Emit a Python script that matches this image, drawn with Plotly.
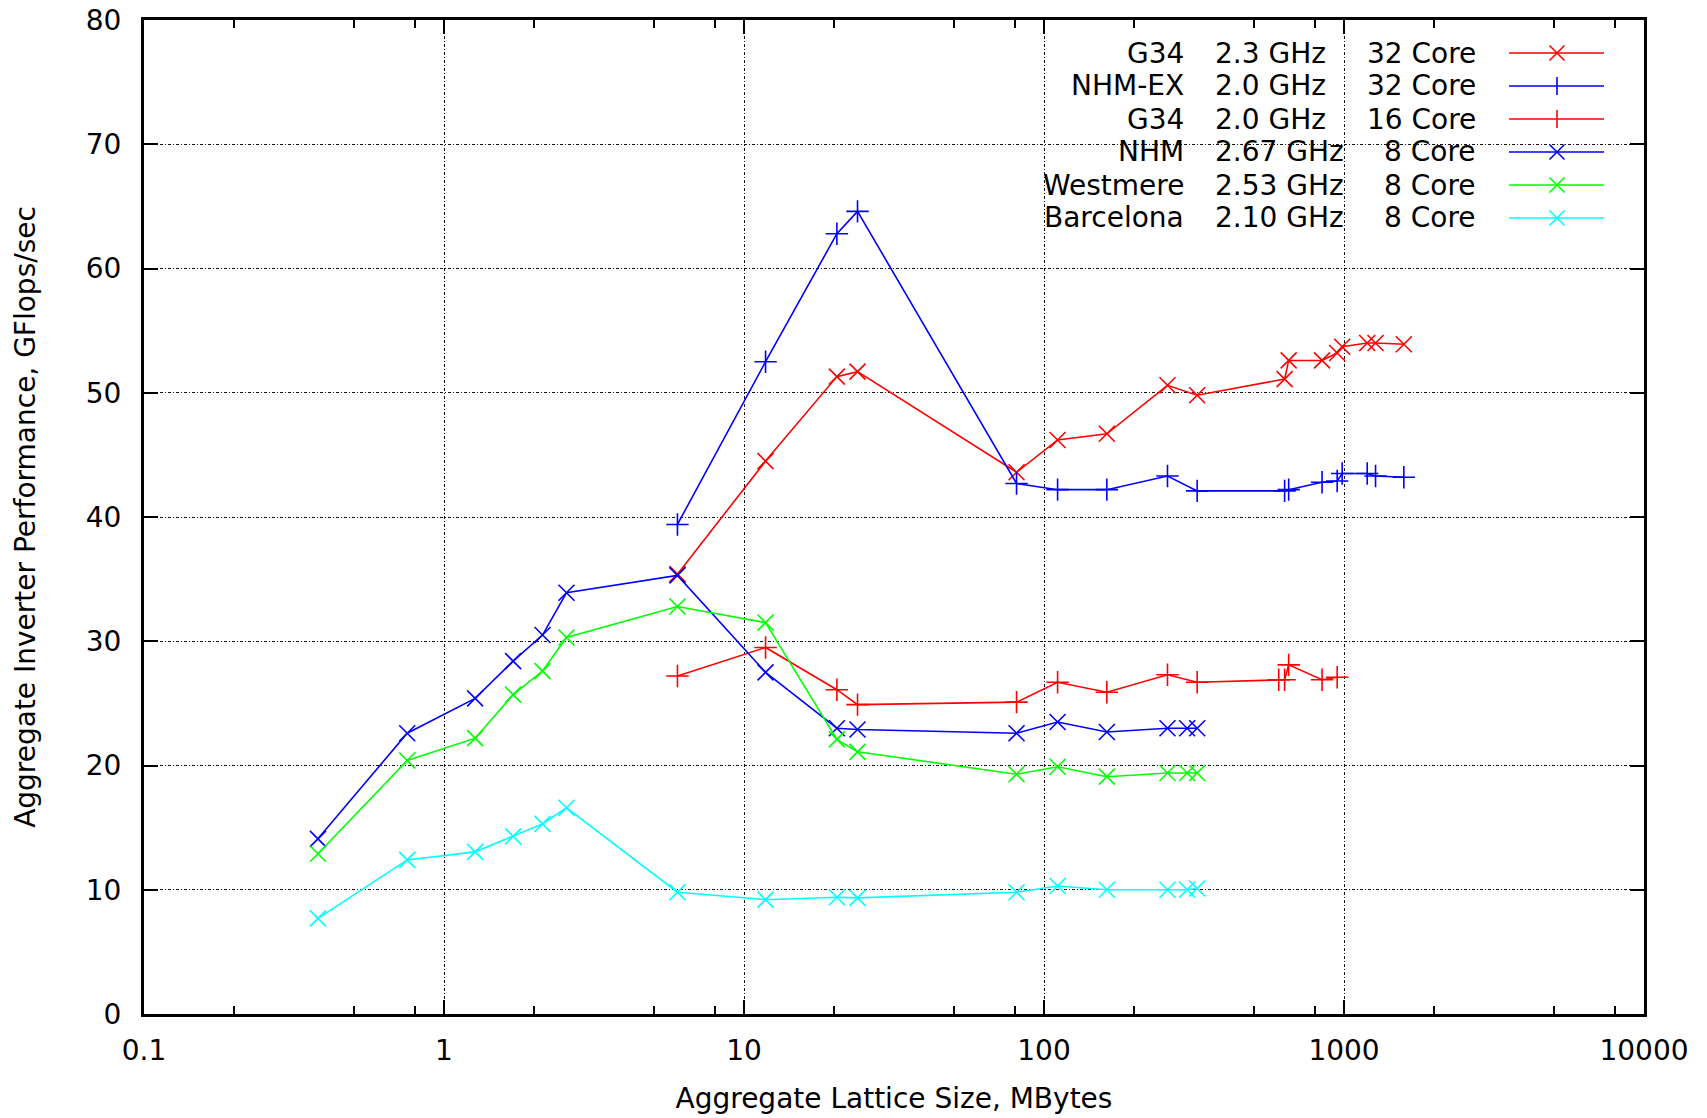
import plotly.graph_objects as go

# ---------------- data ----------------
size_8core = [0.38, 0.754, 1.27, 1.70, 2.13, 2.56, 6.0, 11.8, 20.4, 23.9, 81, 111, 162, 258, 300, 324]
nhm_8 = [14.1, 22.6, 25.4, 28.4, 30.5, 33.9, 35.3, 27.5, 23.0, 22.9, 22.6, 23.5, 22.7, 23.0, 23.0, 23.0]
westmere_8 = [12.9, 20.4, 22.2, 25.7, 27.6, 30.3, 32.8, 31.5, 22.1, 21.1, 19.3, 19.9, 19.1, 19.4, 19.4, 19.4]
barcelona_8 = [7.7, 12.4, 13.05, 14.3, 15.3, 16.6, 9.8, 9.2, 9.4, 9.35, 9.8, 10.3, 10.0, 10.0, 10.0, 10.1]

size_32core = [6.0, 11.8, 20.4, 23.9, 81, 111, 162, 258, 324, 634, 654, 845, 949, 986, 1195, 1274, 1583]
g34_32 = [35.4, 44.5, 51.3, 51.7, 43.6, 46.2, 46.7, 50.6, 49.8, 51.1, 52.6, 52.6, 53.2, 53.7, 54.0, 54.0, 53.9]
nhmex_32 = [39.4, 52.5, 62.8, 64.6, 42.7, 42.2, 42.2, 43.3, 42.1, 42.1, 42.2, 42.8, 42.9, 43.5, 43.5, 43.3, 43.2]

size_16core = [6.0, 11.8, 20.4, 23.9, 81, 111, 162, 258, 324, 606, 634, 654, 845, 949]
g34_16 = [27.2, 29.5, 26.1, 24.9, 25.1, 26.7, 25.9, 27.3, 26.7, 26.9, 26.9, 28.1, 26.9, 27.1]

x_tickvals = [0.1, 1, 10, 100, 1000, 10000]
x_ticktext = ["0.1", "1", "10", "100", "1000", "10000"]
x_minor = [0.2, 0.5, 0.8, 2, 5, 8, 20, 50, 80, 200, 500, 800, 2000, 5000, 8000]
y_tickvals = [0, 10, 20, 30, 40, 50, 60, 70, 80]

legend_names = ["G34", "NHM-EX", "G34", "NHM", "Westmere", "Barcelona"]
legend_ghz = ["2.3 GHz", "2.0 GHz", "2.0 GHz", "2.67 GHz", "2.53 GHz", "2.10 GHz"]
legend_cores = ["32 Core", "32 Core", "16 Core", "8 Core", "8 Core", "8 Core"]

RED, BLUE, GREEN, CYAN = "#ff0000", "#0000ff", "#00ff00", "#00ffff"

series = [
    (size_32core, g34_32, RED, "x"),
    (size_32core, nhmex_32, BLUE, "+"),
    (size_16core, g34_16, RED, "+"),
    (size_8core, nhm_8, BLUE, "x"),
    (size_8core, westmere_8, GREEN, "x"),
    (size_8core, barcelona_8, CYAN, "x"),
]

FONT = "DejaVu Sans"
FS = 28

fig = go.Figure()
for i, (xs, ys, col, mk) in enumerate(series):
    sym = "x-thin-open" if mk == "x" else "cross-thin-open"
    name = f"{legend_names[i]} {legend_ghz[i]} {legend_cores[i]}"
    fig.add_trace(go.Scatter(
        x=xs, y=ys, mode="lines+markers", name=name, showlegend=False,
        line=dict(color=col, width=1.6),
        marker=dict(symbol=sym, size=16, color=col, line=dict(color=col, width=1.6)),
    ))

# plot-area geometry (pixels)
L, R, T, B = 144, 63, 20, 104
W = 1707 - L - R
H = 1118 - T - B


def px(xp):
    return (xp - L) / W


def py(yp):
    return (T + H - yp) / H


shapes = []
annotations = []
# opaque key box (hides grid behind the key)
shapes.append(dict(type="rect", xref="paper", yref="paper", x0=px(912), x1=1, y0=py(237), y1=1,
                   fillcolor="white", line=dict(width=0), layer="between"))

row_y = [53, 86, 119, 152, 185, 218]
for i, (xs, ys, col, mk) in enumerate(series):
    yy = row_y[i]
    annotations.append(dict(xref="paper", yref="paper", x=px(1186), y=py(yy), text=legend_names[i],
                            xanchor="right", yanchor="middle", showarrow=False,
                            font=dict(family=FONT, size=FS, color="black")))
    annotations.append(dict(xref="paper", yref="paper", x=px(1213), y=py(yy), text=legend_ghz[i],
                            xanchor="left", yanchor="middle", showarrow=False,
                            font=dict(family=FONT, size=FS, color="black")))
    annotations.append(dict(xref="paper", yref="paper", x=px(1478), y=py(yy), text=legend_cores[i],
                            xanchor="right", yanchor="middle", showarrow=False,
                            font=dict(family=FONT, size=FS, color="black")))
    shapes.append(dict(type="line", xref="paper", yref="paper", x0=px(1509), x1=px(1604),
                       y0=py(yy), y1=py(yy), line=dict(color=col, width=1.6), layer="above"))
    cx = 1557
    if mk == "x":
        d = 7.5
        shapes.append(dict(type="line", xref="paper", yref="paper", x0=px(cx - d), x1=px(cx + d),
                           y0=py(yy - d), y1=py(yy + d), line=dict(color=col, width=1.6), layer="above"))
        shapes.append(dict(type="line", xref="paper", yref="paper", x0=px(cx - d), x1=px(cx + d),
                           y0=py(yy + d), y1=py(yy - d), line=dict(color=col, width=1.6), layer="above"))
    else:
        d = 9
        shapes.append(dict(type="line", xref="paper", yref="paper", x0=px(cx), x1=px(cx),
                           y0=py(yy - d), y1=py(yy + d), line=dict(color=col, width=1.6), layer="above"))

grid_dash = "3px,2px,1px,2px"
fig.update_xaxes(
    type="log", range=[-1, 4], tickmode="array", tickvals=x_tickvals, ticktext=x_ticktext,
    ticks="inside", ticklen=14, tickwidth=2, tickcolor="black",
    showline=True, linewidth=3, linecolor="black", mirror="ticks",
    showgrid=True, gridcolor="#111111", gridwidth=1, griddash=grid_dash,
    minor=dict(tickmode="array", tickvals=x_minor, ticks="inside", ticklen=8, tickwidth=2,
               tickcolor="black", showgrid=False),
    zeroline=False, ticklabelstandoff=9,
    tickfont=dict(family=FONT, size=FS, color="black"),
    title=dict(text="Aggregate Lattice Size, MBytes", font=dict(family=FONT, size=FS, color="black"),
               standoff=23),
)
fig.update_yaxes(
    range=[0, 80], tickmode="array", tickvals=y_tickvals,
    ticks="inside", ticklen=14, tickwidth=2, tickcolor="black",
    showline=True, linewidth=3, linecolor="black", mirror="ticks",
    showgrid=True, gridcolor="#111111", gridwidth=1, griddash=grid_dash,
    zeroline=False, ticklabelstandoff=14,
    tickfont=dict(family=FONT, size=FS, color="black"),
    title=dict(text="Aggregate Inverter Performance, GFlops/sec",
               font=dict(family=FONT, size=FS, color="black"), standoff=42),
)
fig.update_layout(
    width=1707, height=1118, autosize=False,
    margin=dict(l=L, r=R, t=T, b=B, autoexpand=False),
    paper_bgcolor="white", plot_bgcolor="white",
    shapes=shapes, annotations=annotations, showlegend=False,
    font=dict(family=FONT, size=FS, color="black"),
)
fig.write_html("out.html", config={"displayModeBar": False},
               post_script="document.body.style.margin='0px';document.body.style.overflow='hidden';")
